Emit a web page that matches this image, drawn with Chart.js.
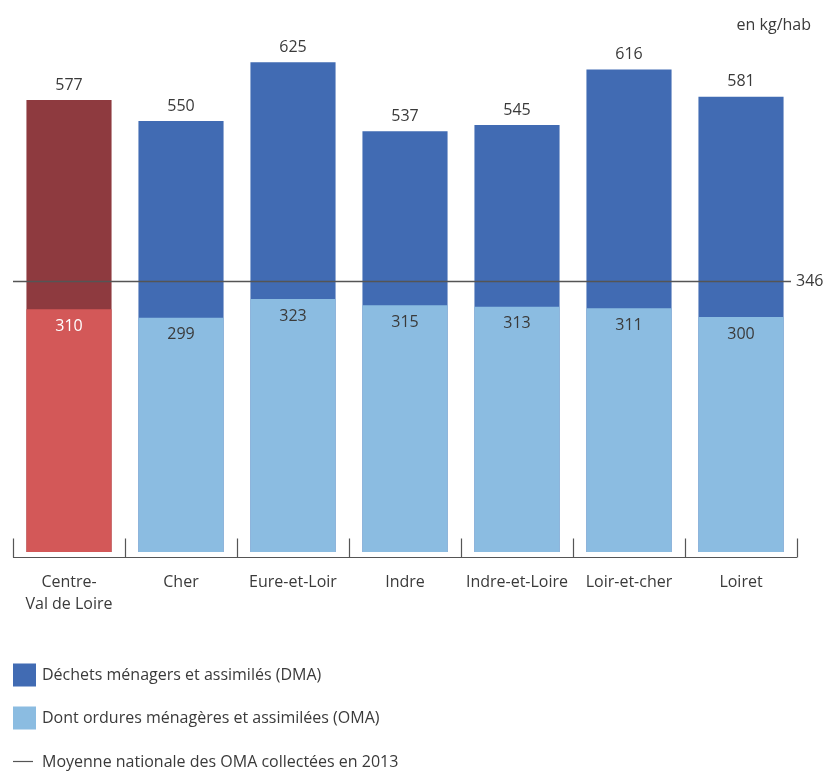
<!DOCTYPE html>
<html lang="fr">
<head>
<meta charset="utf-8">
<title>Déchets ménagers par département</title>
<script src="https://cdn.jsdelivr.net/npm/chart.js@4.4.1/dist/chart.umd.min.js"></script>
<style>
  html, body { margin: 0; padding: 0; background: #fff; }
  #wrap { width: 835px; height: 772px; position: relative; }
</style>
</head>
<body>
<div id="wrap"><canvas id="dechetsChart" width="835" height="772"></canvas></div>
<script>
const departements = [
  ["Centre-", "Val de Loire"],
  "Cher",
  "Eure-et-Loir",
  "Indre",
  "Indre-et-Loire",
  "Loir-et-cher",
  "Loiret",
];
const dma = [577, 550, 625, 537, 545, 616, 581];
const oma = [310, 299, 323, 315, 313, 311, 300];
const moyenneNationale = 346;

const legendItems = [
  "Déchets ménagers et assimilés (DMA)",
  "Dont ordures ménagères et assimilées (OMA)",
  "Moyenne nationale des OMA collectées en 2013",
];

const FONT = '"Open Sans", "Noto Sans", sans-serif';
const TEXT = "#3a3a3a";
const BLUE_DARK = "#416bb3";
const BLUE_LIGHT = "#8bbce1";
const RED_DARK = "#8e3a3f";
const RED_LIGHT = "#d35858";

// region bar is highlighted in red, departments in blue
const dmaColors = dma.map((v, i) => (i === 0 ? RED_DARK : BLUE_DARK));
const omaColors = oma.map((v, i) => (i === 0 ? RED_LIGHT : BLUE_LIGHT));

const decorPlugin = {
  id: "decor",
  afterDatasetsDraw(chart) {
    const { ctx, scales } = chart;
    const x = scales.x;
    const y = scales.y;
    const step = x.getPixelForValue(1) - x.getPixelForValue(0);
    const half = step / 2;
    const base = y.getPixelForValue(0);

    ctx.save();
    ctx.font = "16px " + FONT;
    ctx.textAlign = "center";
    ctx.textBaseline = "middle";

    // value labels: DMA above the bar, OMA inside the light part
    dma.forEach((v, i) => {
      const cx = x.getPixelForValue(i);
      ctx.fillStyle = TEXT;
      ctx.fillText(String(v), cx, y.getPixelForValue(v) - 15);
      ctx.fillStyle = i === 0 ? "#ffffff" : TEXT;
      ctx.fillText(String(oma[i]), cx, y.getPixelForValue(oma[i]) + 17);
    });

    // national average line
    const ly = Math.round(y.getPixelForValue(moyenneNationale)) + 0.5;
    ctx.strokeStyle = "#555555";
    ctx.lineWidth = 1.5;
    ctx.beginPath();
    ctx.moveTo(x.getPixelForValue(0) - half, ly);
    ctx.lineTo(x.getPixelForValue(departements.length - 1) + half - 6, ly);
    ctx.stroke();
    ctx.fillStyle = TEXT;
    ctx.textAlign = "left";
    ctx.fillText(String(moyenneNationale), x.getPixelForValue(departements.length - 1) + half - 1, ly);

    // bracket-style category axis
    const axisY = base + 5.5;
    ctx.strokeStyle = "#555555";
    ctx.lineWidth = 1.2;
    ctx.beginPath();
    ctx.moveTo(x.getPixelForValue(0) - half, axisY);
    ctx.lineTo(x.getPixelForValue(departements.length - 1) + half, axisY);
    for (let i = 0; i <= departements.length; i++) {
      const tx = Math.round(x.getPixelForValue(i) - half) + 0.5;
      ctx.moveTo(tx, axisY);
      ctx.lineTo(tx, axisY - 19);
    }
    ctx.stroke();

    // category names
    ctx.textAlign = "center";
    ctx.fillStyle = TEXT;
    departements.forEach((name, i) => {
      const lines = Array.isArray(name) ? name : [name];
      lines.forEach((ln, k) => ctx.fillText(ln, x.getPixelForValue(i), axisY + 25 + k * 22));
    });

    // unit
    ctx.textAlign = "right";
    ctx.fillText("en kg/hab", 811, 25);

    // legend
    ctx.textAlign = "left";
    const lx = 13;
    [BLUE_DARK, BLUE_LIGHT].forEach((c, k) => {
      const cy = 675 + k * 43;
      ctx.fillStyle = c;
      ctx.fillRect(lx, cy - 11.5, 23, 23);
      ctx.fillStyle = TEXT;
      ctx.fillText(legendItems[k], lx + 29, cy);
    });
    ctx.strokeStyle = "#555555";
    ctx.lineWidth = 1.2;
    ctx.beginPath();
    ctx.moveTo(lx, 761.5);
    ctx.lineTo(lx + 20, 761.5);
    ctx.stroke();
    ctx.fillStyle = TEXT;
    ctx.fillText(legendItems[2], lx + 29, 762);
    ctx.restore();
  },
};

new Chart(document.getElementById("dechetsChart").getContext("2d"), {
  type: "bar",
  data: {
    labels: departements,
    datasets: [
      {
        label: legendItems[1],
        data: oma,
        backgroundColor: omaColors,
        order: 1,
      },
      {
        label: legendItems[0],
        data: dma,
        backgroundColor: dmaColors,
        order: 2,
      },
    ],
  },
  options: {
    responsive: false,
    animation: false,
    events: [],
    layout: {
      padding: { left: 13, right: 38, top: 3.6, bottom: 220 },
    },
    datasets: {
      bar: {
        grouped: false,
        categoryPercentage: 1,
        barPercentage: 0.76,
        borderWidth: 0,
      },
    },
    scales: {
      x: { display: false },
      y: { display: false, min: 0, max: 700 },
    },
    plugins: {
      legend: { display: false },
      tooltip: { enabled: false },
    },
  },
  plugins: [decorPlugin],
});
</script>
</body>
</html>
